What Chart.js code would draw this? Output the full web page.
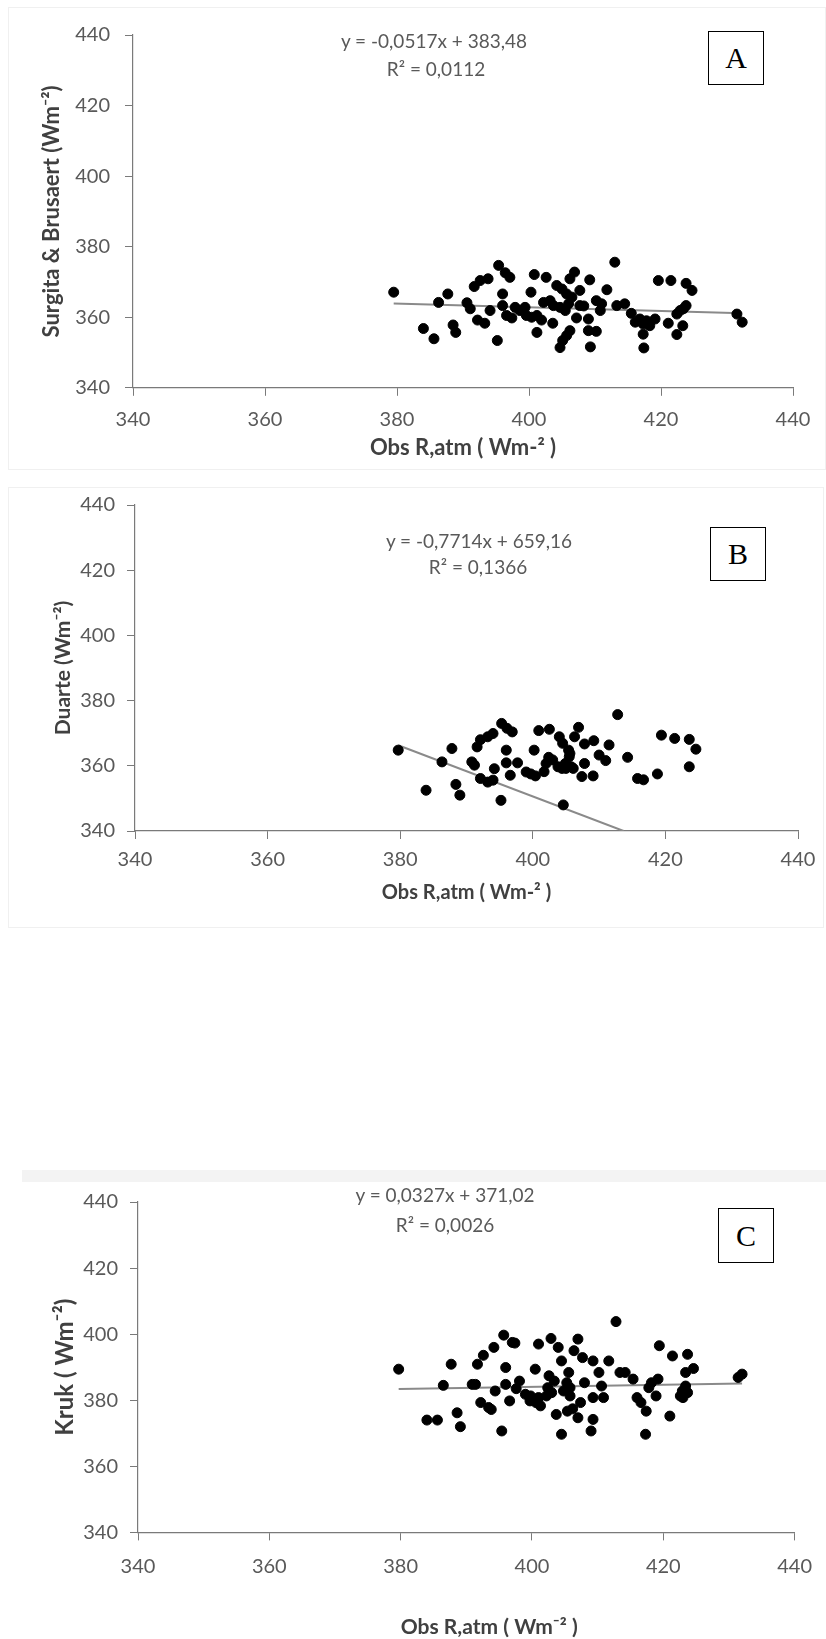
<!DOCTYPE html>
<html>
<head>
<meta charset="utf-8">
<script src="https://cdn.jsdelivr.net/npm/chart.js@4/dist/chart.umd.min.js"></script>
<style>
  html, body { margin:0; padding:0; background:#fff; }
  body { width:826px; height:1639px; position:relative; overflow:hidden; font-family:Lato, sans-serif; }
  canvas { position:absolute; left:0; }
  .frame { position:absolute; border:1px solid #f0f0f0; box-sizing:border-box; }
  .band { position:absolute; background:#f3f3f3; }
  .eq { position:absolute; transform:translate(-50%,-50%); white-space:nowrap; color:#595959; font-size:19px; font-family:Lato, sans-serif; }
  .box { position:absolute; border:1.5px solid #000; box-sizing:border-box; display:flex; align-items:center; justify-content:center; font-family:"Liberation Serif", serif; font-size:30px; color:#000; background:#fff; }
</style>
</head>
<body>
<div class="frame" style="left:8px;top:7px;width:818px;height:463px;"></div>
<div class="frame" style="left:8px;top:487px;width:816px;height:441px;"></div>
<div class="band" style="left:22px;top:1170px;width:804px;height:12px;"></div>

<canvas id="cA" width="826" height="470" style="top:0px"></canvas>
<canvas id="cB" width="826" height="440" style="top:470px"></canvas>
<canvas id="cC" width="826" height="489" style="top:1150px"></canvas>

<div class="eq" style="left:434px;top:40px;">y = -0,0517x + 383,48</div>
<div class="eq" style="left:436px;top:68px;">R² = 0,0112</div>
<div class="box" style="left:708px;top:31px;width:56px;height:54px;">A</div>

<div class="eq" style="left:479px;top:540px;">y = -0,7714x + 659,16</div>
<div class="eq" style="left:478px;top:566px;">R² = 0,1366</div>
<div class="box" style="left:710px;top:527px;width:56px;height:54px;">B</div>

<div class="eq" style="left:445px;top:1194px;">y = 0,0327x + 371,02</div>
<div class="eq" style="left:445px;top:1224px;">R² = 0,0026</div>
<div class="box" style="left:718px;top:1208px;width:56px;height:55px;">C</div>

<script>
// ---------- DATA ----------
const axisMin = 340, axisMax = 440, axisStep = 20;

const xTitleAB = 'Obs R,atm ( Wm-² )';
const xTitleC = '         Obs R,atm ( Wm⁻² )';
const yTitleA = 'Surgita & Brusaert (Wm⁻²)';
const yTitleB = 'Duarte (Wm⁻²)';
const yTitleC = 'Kruk ( Wm⁻²)';

const obsA = [379.5,384.0,385.6,386.3,387.7,388.5,388.9,390.6,391.1,391.7,392.6,393.8,392.2,393.3,394.1,395.2,395.4,396.4,397.1,396.0,396.0,396.6,397.4,397.9,398.6,399.4,399.6,400.4,401.2,401.9,400.3,400.8,402.6,401.2,402.2,403.2,403.7,403.6,404.2,405.0,404.7,405.1,405.7,406.2,404.7,405.5,406.0,406.5,405.7,406.2,406.9,407.2,407.7,407.7,409.0,409.0,410.2,409.3,409.2,410.2,411.0,410.8,411.8,413.0,413.3,414.5,415.5,416.1,416.8,417.3,417.8,418.3,419.1,417.3,417.4,419.6,421.5,421.1,422.4,423.3,422.4,422.9,423.4,423.8,423.8,424.7,431.5,432.3,408.3];
const surgita = [367.1,356.8,353.9,364.2,366.6,357.8,355.7,364.1,362.4,368.7,370.4,370.9,359.2,358.3,361.9,353.4,374.7,372.6,371.3,366.6,363.3,360.5,359.8,362.8,361.9,362.8,360.5,360.0,360.5,359.2,367.1,372.1,371.3,355.7,364.2,364.7,363.3,358.3,369.0,368.0,351.4,353.4,354.8,356.2,362.8,361.9,363.8,365.7,366.6,370.9,372.8,359.8,363.3,367.6,359.5,356.2,356.0,351.6,370.6,364.7,363.8,361.9,367.8,375.6,363.3,363.8,361.1,358.6,359.5,358.1,359.0,357.6,359.5,355.2,351.3,370.4,370.4,358.3,355.1,357.6,360.9,361.9,362.4,363.3,369.6,367.6,360.9,358.6,363.2];

const obsB = [379.7,383.9,386.3,387.8,388.4,389.0,390.8,391.2,391.6,392.1,393.2,394.0,392.1,393.2,394.0,394.2,395.2,395.3,396.1,396.9,396.0,396.0,396.6,397.7,399.0,399.7,400.4,400.2,400.9,402.5,401.7,402.4,403.0,403.8,404.4,405.0,405.8,405.5,405.4,402.0,404.0,404.5,404.6,406.3,406.9,407.8,409.2,407.8,407.4,409.1,410.0,411.0,411.5,412.8,414.3,415.8,416.7,418.8,419.4,421.4,423.6,424.6,423.6,405.6,406.1,404.9];
const duarte = [364.8,352.5,361.2,365.3,354.3,351.0,361.2,360.2,365.8,368.0,368.9,369.9,356.1,355.0,355.6,359.1,349.4,373.0,371.5,370.4,364.8,360.9,357.1,360.9,358.1,357.5,356.9,364.8,370.8,371.2,358.2,362.6,361.8,359.7,359.2,359.2,359.7,362.8,364.8,360.7,368.9,366.9,348.0,368.9,371.8,366.7,367.7,360.7,356.7,356.9,363.3,361.6,366.4,375.7,362.6,356.1,355.7,357.5,369.4,368.4,368.1,365.1,359.7,363.8,359.2,360.7];

const obsC = [379.7,384.0,385.6,386.5,387.7,388.6,389.1,390.9,391.4,391.7,392.6,392.2,393.4,393.8,394.2,394.4,395.4,395.7,396.0,396.0,396.6,397.0,397.4,397.6,398.1,399.0,399.7,399.8,400.6,401.0,401.3,400.5,401.0,402.2,402.4,402.6,403.4,403.0,402.9,403.7,404.0,404.5,404.5,404.8,405.3,405.6,405.8,405.8,405.4,406.2,406.4,407.0,407.0,407.4,407.7,408.0,409.0,409.3,409.3,409.3,410.2,410.6,410.9,411.7,412.8,413.4,414.2,415.4,416.0,416.6,417.4,417.3,417.8,418.2,418.9,419.2,419.4,421.0,421.4,422.6,422.9,423.0,423.4,423.7,423.4,423.7,424.6,431.4,432.0];
const kruk = [389.4,374.0,374.0,384.5,390.9,376.2,372.0,384.8,384.8,390.9,393.6,379.3,377.8,377.2,396.0,382.8,370.7,399.7,389.9,384.8,379.8,397.5,397.3,383.5,385.8,381.8,379.8,381.3,379.3,380.8,378.3,389.4,397.0,381.3,383.8,387.4,385.8,382.3,398.7,375.7,396.0,391.9,369.7,382.8,385.3,388.4,383.8,381.3,376.7,377.4,395.0,398.5,374.7,379.3,392.9,385.3,370.7,374.2,391.9,380.8,388.4,384.3,380.8,391.9,403.8,388.4,388.4,386.4,380.8,379.3,376.7,369.7,383.8,385.3,381.3,386.4,396.5,375.2,393.4,381.3,382.8,380.8,384.3,382.3,388.4,393.9,389.6,386.9,387.9];

// trend-line end points
const trendAx = [379.5, 432.3], trendAy = [363.9, 361.1];
const trendBx = [379.7, 413.7], trendBy = [366.3, 340.0];
const trendCx = [379.7, 432.0], trendCy = [383.4, 385.1];

// ---------- BUILD ----------
Chart.defaults.font.family = 'Lato, sans-serif';
const pts = (xs, ys) => xs.map((x, i) => ({x, y: ys[i]}));
const TL = 8;

function makePanel(p) {
  const lhTick = p.tickFont * 1.2, lhX = p.xFont * 1.2, lhY = p.yFont * 1.2;
  const top = p.T - p.canvasTop, bottom = p.B - p.canvasTop;
  const tY = p.tickY - p.canvasTop, xtY = p.xTitleY - p.canvasTop;
  const pb = 2;
  const xH = xtY + lhX / 2 + pb - bottom;
  const cnv = document.getElementById(p.id);
  cnv.height = Math.ceil(bottom + xH);
  new Chart(cnv, {
    type: 'scatter',
    data: {
      datasets: [
        { data: pts(p.xs, p.ys), backgroundColor: '#000', borderColor: '#000', pointRadius: 5, pointHoverRadius: 5, order: 1 },
        { data: pts(p.tx, p.ty), showLine: true, borderColor: '#8a8a8a', borderWidth: 2, pointRadius: 0, fill: false, order: 2 }
      ]
    },
    options: {
      responsive: false, animation: false, devicePixelRatio: 1,
      layout: { padding: { left: 0, right: 826 - p.R, top: top, bottom: 0 } },
      plugins: { legend: { display: false }, tooltip: { enabled: false } },
      scales: {
        x: {
          type: 'linear', min: axisMin, max: axisMax,
          ticks: { stepSize: axisStep, color: '#595959', font: { size: p.tickFont }, padding: tY - bottom - TL - lhTick / 2, maxRotation: 0 },
          grid: { drawOnChartArea: false, drawTicks: true, tickLength: TL, color: '#7a7a7a', lineWidth: 1 },
          border: { display: true, color: '#7a7a7a', width: 1.2 },
          title: { display: true, text: p.xTitle, color: '#404040', font: { size: p.xFont, weight: 'bold' }, padding: { top: 0, bottom: pb } },
          afterFit: (s) => { s.height = xH; }
        },
        y: {
          type: 'linear', min: axisMin, max: axisMax,
          ticks: { stepSize: axisStep, color: '#595959', font: { size: p.tickFont }, padding: p.yTickPad },
          grid: { drawOnChartArea: false, drawTicks: true, tickLength: TL, color: '#7a7a7a', lineWidth: 1 },
          border: { display: true, color: '#7a7a7a', width: 1.2 },
          title: { display: true, text: p.yTitle, color: '#404040', font: { size: p.yFont, weight: 'bold' }, padding: { top: p.yTitleX - lhY / 2, bottom: 0 } },
          afterFit: (s) => { s.width = p.L; }
        }
      }
    }
  });
}

makePanel({ id: 'cA', canvasTop: 0, L: 133, R: 793, T: 35, B: 387, tickY: 419, xTitleY: 447, yTitleX: 52, yTickPad: 15,
  tickFont: 20, xFont: 22, yFont: 22, xs: obsA, ys: surgita, tx: trendAx, ty: trendAy, xTitle: xTitleAB, yTitle: yTitleA });
makePanel({ id: 'cB', canvasTop: 470, L: 135, R: 798, T: 505, B: 831, tickY: 860, xTitleY: 893, yTitleX: 63, yTickPad: 12,
  tickFont: 20, xFont: 20, yFont: 21, xs: obsB, ys: duarte, tx: trendBx, ty: trendBy, xTitle: xTitleAB, yTitle: yTitleB });
makePanel({ id: 'cC', canvasTop: 1150, L: 138, R: 797, T: 1202, B: 1532, tickY: 1566, xTitleY: 1627, yTitleX: 65, yTickPad: 12,
  tickFont: 20, xFont: 21, yFont: 24, xs: obsC, ys: kruk, tx: trendCx, ty: trendCy, xTitle: xTitleC, yTitle: yTitleC });
</script>
</body>
</html>
